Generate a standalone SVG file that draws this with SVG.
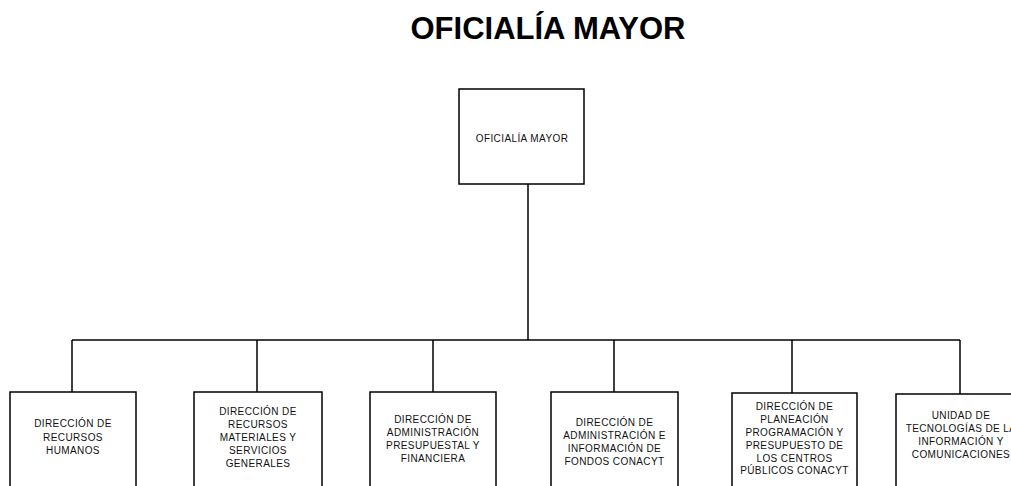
<svg xmlns="http://www.w3.org/2000/svg" width="1011" height="486" viewBox="0 0 1011 486">
<style>
.box{fill:#fff;stroke:#000;stroke-width:1.5}
.ln{fill:none;stroke:#000;stroke-width:1.5}
.t{font-family:"Liberation Sans",Arial,sans-serif;font-size:10px;letter-spacing:0.4px;fill:#111;text-anchor:middle}
.title{font-family:"Liberation Sans",Arial,sans-serif;font-size:31px;font-weight:bold;fill:#000;text-anchor:middle}
</style>
<rect width="1011" height="486" fill="#fff"/>
<text class="title" x="548" y="39">OFICIALÍA MAYOR</text>
<g id="connectors">
<line class="ln" x1="528" y1="184" x2="528" y2="340"/>
<line class="ln" x1="72" y1="340" x2="960" y2="340"/>
<line class="ln" x1="72" y1="340" x2="72" y2="392"/>
<line class="ln" x1="257" y1="340" x2="257" y2="392"/>
<line class="ln" x1="433" y1="340" x2="433" y2="392"/>
<line class="ln" x1="614" y1="340" x2="614" y2="392"/>
<line class="ln" x1="792" y1="340" x2="792" y2="393"/>
<line class="ln" x1="960" y1="340" x2="960" y2="394"/>
</g>
<g id="oficialia">
<rect class="box" x="459" y="89" width="125" height="95"/>
<text class="t" x="522" y="142">OFICIALÍA MAYOR</text>
</g>
<g id="rh">
<rect class="box" x="10" y="392" width="126" height="130"/>
<text class="t" x="73" y="427.4">DIRECCIÓN DE</text>
<text class="t" x="73" y="440.6">RECURSOS</text>
<text class="t" x="73" y="453.8">HUMANOS</text>
</g>
<g id="rm">
<rect class="box" x="194" y="392" width="128" height="130"/>
<text class="t" x="258" y="414.5">DIRECCIÓN DE</text>
<text class="t" x="258" y="427.7">RECURSOS</text>
<text class="t" x="258" y="440.9">MATERIALES Y</text>
<text class="t" x="258" y="454.1">SERVICIOS</text>
<text class="t" x="258" y="467.3">GENERALES</text>
</g>
<g id="ap">
<rect class="box" x="370" y="392" width="126" height="130"/>
<text class="t" x="433" y="422.8">DIRECCIÓN DE</text>
<text class="t" x="433" y="436">ADMINISTRACIÓN</text>
<text class="t" x="433" y="449.2">PRESUPUESTAL Y</text>
<text class="t" x="433" y="462.4">FINANCIERA</text>
</g>
<g id="af">
<rect class="box" x="551" y="392" width="127" height="130"/>
<text class="t" x="614.5" y="425.8">DIRECCIÓN DE</text>
<text class="t" x="614.5" y="439">ADMINISTRACIÓN E</text>
<text class="t" x="614.5" y="452.2">INFORMACIÓN DE</text>
<text class="t" x="614.5" y="465.4">FONDOS CONACYT</text>
</g>
<g id="pp">
<rect class="box" x="732" y="393" width="125" height="130"/>
<text class="t" x="794.5" y="410.3">DIRECCIÓN DE</text>
<text class="t" x="794.5" y="423.1">PLANEACIÓN</text>
<text class="t" x="794.5" y="435.9">PROGRAMACIÓN Y</text>
<text class="t" x="794.5" y="448.7">PRESUPUESTO DE</text>
<text class="t" x="794.5" y="461.5">LOS CENTROS</text>
<text class="t" x="794.5" y="474.3">PÚBLICOS CONACYT</text>
</g>
<g id="ut">
<rect class="box" x="896" y="394" width="126" height="130"/>
<text class="t" x="961" y="418.8">UNIDAD DE</text>
<text class="t" x="961" y="432">TECNOLOGÍAS DE LA</text>
<text class="t" x="961" y="445.2">INFORMACIÓN Y</text>
<text class="t" x="961" y="458.4">COMUNICACIONES</text>
</g>
</svg>
